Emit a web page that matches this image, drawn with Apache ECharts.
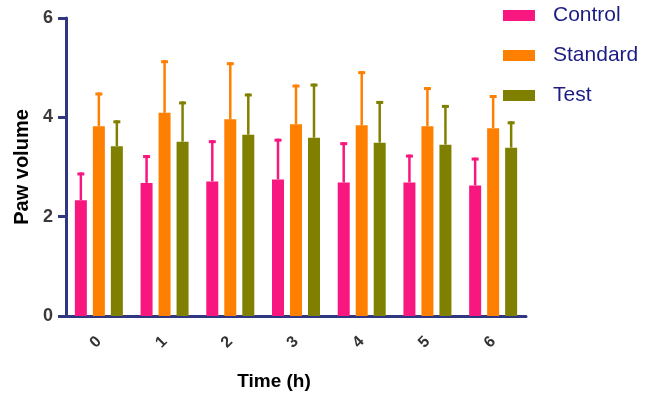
<!DOCTYPE html>
<html>
<head>
<meta charset="utf-8">
<script src="https://cdn.jsdelivr.net/npm/echarts@6/dist/echarts.min.js"></script>
<style>
html, body { margin: 0; padding: 0; background: #fff; }
#main { width: 646px; height: 396px; }
</style>
</head>
<body>
<div id="main"></div>
<script>
var categories = ['0', '1', '2', '3', '4', '5', '6'];
var yTicks = [0, 2, 4, 6];

// means and SD (upper error bar only)
var controlMean = [2.33, 2.68, 2.71, 2.75, 2.69, 2.69, 2.63];
var controlSd = [0.56, 0.56, 0.83, 0.82, 0.81, 0.56, 0.56];
var standardMean = [3.82, 4.09, 3.96, 3.86, 3.84, 3.82, 3.78];
var standardSd = [0.68, 1.06, 1.15, 0.80, 1.09, 0.79, 0.67];
var testMean = [3.42, 3.51, 3.65, 3.59, 3.49, 3.45, 3.39];
var testSd = [0.52, 0.81, 0.83, 1.09, 0.84, 0.80, 0.53];

var colors = ['#f8177f', '#ff8000', '#808000'];
var axisColor = '#2e3780';
var barW = 12;
var barGap = 6;

function errData(mean, sd) {
    var out = [];
    for (var i = 0; i < mean.length; i++) {
        out.push([i, mean[i], mean[i] + sd[i]]);
    }
    return out;
}

// error bar drawn as custom series, shifted to sit on its bar
function errSeries(mean, sd, color, idx) {
    var shift = (idx - 1) * (barW + barGap);
    return {
        type: 'custom',
        name: 'err' + idx,
        data: errData(mean, sd),
        z: 3,
        silent: true,
        renderItem: function (params, api) {
            var lo = api.coord([api.value(0), api.value(1)]);
            var hi = api.coord([api.value(0), api.value(2)]);
            var x = lo[0] + shift;
            return {
                type: 'group',
                children: [
                    {
                        type: 'line',
                        shape: { x1: x, y1: lo[1], x2: x, y2: hi[1] },
                        style: { stroke: color, lineWidth: 2.5 }
                    },
                    {
                        type: 'rect',
                        shape: { x: x - 3.5, y: hi[1], width: 7, height: 3 },
                        style: { fill: color }
                    }
                ]
            };
        }
    };
}

var myChart = echarts.init(document.getElementById('main'), null, { renderer: 'canvas' });

var option = {
    animation: false,
    color: colors,
    grid: { left: 66, right: 120, top: 18, bottom: 79 },
    legend: {
        data: ['Control', 'Standard', 'Test'],
        orient: 'vertical',
        left: 503,
        top: 5,
        padding: 0,
        itemWidth: 32,
        itemHeight: 11,
        itemGap: 19,
        icon: 'rect',
        textStyle: {
            fontFamily: 'Liberation Sans',
            fontSize: 21,
            lineHeight: 21,
            color: '#1c1c84',
            padding: [0, 0, 0, 13]
        }
    },
    xAxis: {
        type: 'category',
        data: categories,
        name: 'Time (h)',
        nameLocation: 'middle',
        nameGap: 56,
        nameTextStyle: {
            fontFamily: 'Liberation Sans', fontWeight: 'bold', fontSize: 19, color: '#000',
            verticalAlign: 'top', padding: [0, 44, 0, 0]
        },
        axisLine: { lineStyle: { color: axisColor, width: 3 } },
        axisTick: { alignWithLabel: true, length: 8, lineStyle: { color: axisColor, width: 3 } },
        axisLabel: { rotate: 45, margin: 23, fontFamily: 'Liberation Sans', fontWeight: 'bold', fontSize: 16, color: '#333' }
    },
    yAxis: {
        type: 'value',
        min: 0,
        max: 6,
        interval: 2,
        name: 'Paw volume',
        nameLocation: 'middle',
        nameGap: 31,
        nameTextStyle: { fontFamily: 'Liberation Sans', fontWeight: 'bold', fontSize: 20, color: '#000' },
        axisLine: { show: true, onZero: false, lineStyle: { color: axisColor, width: 3 } },
        axisTick: { show: true, inside: false, length: 8, lineStyle: { color: axisColor, width: 3 } },
        axisLabel: {
            margin: 13,
            fontFamily: 'Liberation Sans',
            fontWeight: 'bold',
            fontSize: 18,
            color: '#3a3a3a',
            formatter: function (v) { return yTicks.indexOf(v) >= 0 ? String(v) : ''; }
        },
        splitLine: { show: false }
    },
    series: [
        { name: 'Control', type: 'bar', data: controlMean, barWidth: barW, barGap: '50%' },
        { name: 'Standard', type: 'bar', data: standardMean, barWidth: barW, barGap: '50%' },
        { name: 'Test', type: 'bar', data: testMean, barWidth: barW, barGap: '50%' },
        errSeries(controlMean, controlSd, colors[0], 0),
        errSeries(standardMean, standardSd, colors[1], 1),
        errSeries(testMean, testSd, colors[2], 2)
    ]
};

myChart.setOption(option);
</script>
</body>
</html>
